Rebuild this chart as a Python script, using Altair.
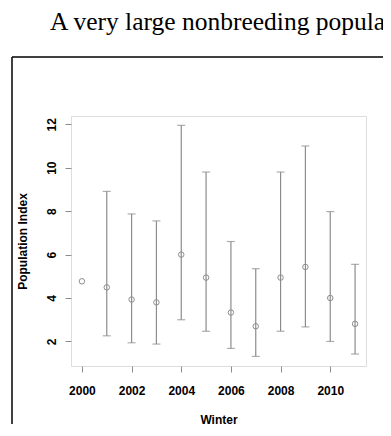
import altair as alt
import pandas as pd

years = [2000, 2001, 2002, 2003, 2004, 2005, 2006, 2007, 2008, 2009, 2010, 2011]
index = [4.77, 4.49, 3.93, 3.80, 6.00, 4.94, 3.33, 2.70, 4.94, 5.43, 4.00, 2.81]
lower = [None, 2.26, 1.94, 1.88, 3.00, 2.47, 1.68, 1.31, 2.47, 2.67, 2.00, 1.42]
upper = [None, 8.91, 7.87, 7.55, 11.95, 9.80, 6.60, 5.35, 9.80, 11.00, 7.98, 5.55]
x_ticks = [2000, 2002, 2004, 2006, 2008, 2010]
y_ticks = [2, 4, 6, 8, 10, 12]
header = "A very large nonbreeding population"

df = pd.DataFrame({"year": years, "index": index, "lower": lower, "upper": upper})

GRAY = "#8c8c8c"
FONT = "Liberation Sans"

xscale = alt.Scale(domain=[1999.56, 2011.44], nice=False, zero=False)
yscale = alt.Scale(domain=[0.87, 12.38], nice=False, zero=False)

xaxis = alt.Axis(values=x_ticks, format="d", title="Winter", grid=False, domain=False,
                 tickColor=GRAY, tickSize=6, tickWidth=1,
                 labelFont=FONT, labelFontSize=12, labelFontWeight="bold", labelColor="black",
                 labelBaseline="alphabetic", labelPadding=22, labelFlush=False,
                 titleFont=FONT, titleFontSize=12, titleFontWeight="bold", titleColor="black",
                 titleX=147.5, titleY=57, titleBaseline="alphabetic", titleAlign="center")
yaxis = alt.Axis(values=y_ticks, format="d", title="Population Index", grid=False, domain=False,
                 tickColor=GRAY, tickSize=6, tickWidth=1,
                 labelFont=FONT, labelFontSize=12, labelFontWeight="bold", labelColor="black",
                 labelAngle=-90, labelAlign="center", labelBaseline="alphabetic",
                 labelPadding=10, labelFlush=False,
                 titleFont=FONT, titleFontSize=12, titleFontWeight="bold", titleColor="black",
                 titleAngle=-90, titleX=-44.5, titleY=125, titleBaseline="alphabetic",
                 titleAlign="center")

base = alt.Chart(df)

bars = base.mark_rule(color=GRAY, strokeWidth=1.2).encode(
    x=alt.X("year:Q", scale=xscale, axis=xaxis),
    y=alt.Y("lower:Q", scale=yscale, axis=yaxis),
    y2="upper:Q",
).transform_filter("isValid(datum.lower)")

caps_top = base.mark_tick(color=GRAY, orient="horizontal", size=8, thickness=1.2).encode(
    x="year:Q", y="upper:Q"
).transform_filter("isValid(datum.upper)")

caps_bot = base.mark_tick(color=GRAY, orient="horizontal", size=8, thickness=1.2).encode(
    x="year:Q", y="lower:Q"
).transform_filter("isValid(datum.lower)")

points = base.mark_point(shape="circle", size=30, color=GRAY, filled=False,
                         strokeWidth=1, opacity=1).encode(
    x="year:Q", y="index:Q"
)

deco = alt.Chart(pd.DataFrame({"k": [0]}))
frame_v = deco.mark_rule(color="black", strokeWidth=1.5).encode(
    x=alt.value(-59), y=alt.value(-59), y2=alt.value(400))
frame_h = deco.mark_rule(color="black", strokeWidth=1.5).encode(
    x=alt.value(-59), x2=alt.value(400), y=alt.value(-59))
title_text = deco.mark_text(align="left", baseline="alphabetic", font="Liberation Serif",
                            fontSize=25.5, color="black").encode(
    x=alt.value(-21), y=alt.value(-86), text=alt.value(header))

chart = alt.layer(frame_v, frame_h, title_text, bars, caps_top, caps_bot, points).properties(
    width=295, height=250,
    autosize=alt.AutoSizeParams(type="none"),
    padding={"left": 63, "top": 108, "right": 17, "bottom": 58},
).configure_view(stroke=GRAY, strokeWidth=1.2).configure(background="white")

chart.save("out.html", embed_options={"renderer": "svg", "actions": False})
